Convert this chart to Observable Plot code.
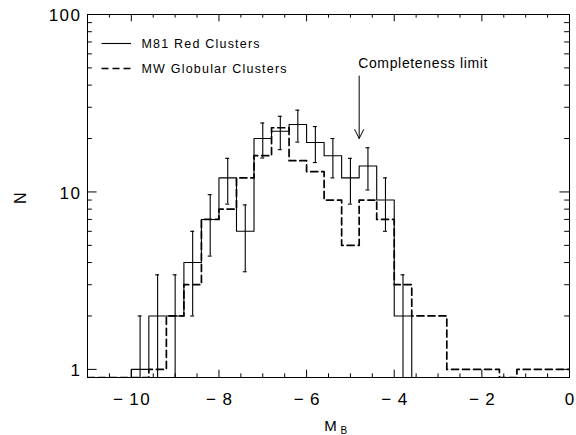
<!DOCTYPE html>
<html>
<head>
<meta charset="utf-8">
<script src="https://cdn.jsdelivr.net/npm/d3@7"></script>
<script src="https://cdn.jsdelivr.net/npm/@observablehq/plot@0.6"></script>
<style>
  html, body { margin: 0; padding: 0; background: #fff; }
  #chart { width: 576px; height: 435px; overflow: hidden; }
</style>
</head>
<body>
<div id="chart"></div>
<script>
// ---- data ----
const binStart = [-10.0, -9.6, -9.2, -8.8, -8.4, -8.0, -7.6, -7.2, -6.8, -6.4, -6.0, -5.6, -5.2,
                  -4.8, -4.4, -4.0, -3.6, -3.2, -2.8, -2.4, -2.0, -1.6, -1.2, -0.8, -0.4];
const binWidth = 0.4;
const m81Red    = [1, 2, 2, 4, 7, 12, 6, 20, 22, 24, 19, 16, 12, 14, 9, 2, 0, 0, 0, 0, 0, 0, 0, 0, 0];
const m81RedErr = [1.0, 1.41, 1.41, 2.0, 2.65, 3.46, 2.45, 4.47, 4.69, 4.9, 4.36, 4.0, 3.46, 3.74, 3.0, 1.41,
                   0, 0, 0, 0, 0, 0, 0, 0, 0];
const mwGlobular = [0, 1, 2, 3, 7, 8, 12, 16, 23, 15, 13, 9, 5, 9, 7, 3, 2, 2, 1, 1, 1, 0, 1, 1, 1];
const seriesNames = ["M81 Red Clusters", "MW Globular Clusters"];
const xMajorTicks = [-10, -8, -6, -4, -2, 0];
const xMinorTicks = [-10.5, -9.5, -9, -8.5, -7.5, -7, -6.5, -5.5, -5, -4.5, -3.5, -3, -2.5, -1.5, -1, -0.5];
const yMajorTicks = [1, 10, 100];
const yMinorTicks = [2, 3, 4, 5, 6, 7, 8, 9, 20, 30, 40, 50, 60, 70, 80, 90];
const completenessLimit = -4.8;
const annotationText = "Completeness limit";
const xDomain = [-11, 0];
const yDomain = [0.9, 100];

// ---- layout ----
const W = 576, H = 435, mL = 87, mR = 7, mT = 14, mB = 58;
const innerW = W - mL - mR, innerH = H - mT - mB;
const font = "'Liberation Sans', Arial, Helvetica, sans-serif";
const floor = yDomain[0];
const tickLS = 1.5;

function steps(values) {
  const pts = [{x: xDomain[0], y: floor}];
  binStart.forEach((x, i) => pts.push({x, y: values[i] > 0 ? values[i] : floor}));
  pts.push({x: xDomain[1], y: values[values.length - 1] > 0 ? values[values.length - 1] : floor});
  return pts;
}
const redSteps = steps(m81Red);
const mwSteps = steps(mwGlobular);
const errData = binStart.map((x, i) => ({
  x: x + binWidth / 2,
  lo: Math.max(m81Red[i] - m81RedErr[i], 0.5),
  hi: m81Red[i] + m81RedErr[i],
  n: m81Red[i]
})).filter(d => d.n > 0);
const capHalf = 0.045;
const caps = errData.flatMap(d => [{x: d.x, y: d.lo}, {x: d.x, y: d.hi}]);
const minus = d => d === 0 ? "0" : (d < 0 ? "\u2212\u2009" + Math.abs(d) : String(d));

const chart = Plot.plot({
  width: W, height: H,
  marginLeft: mL, marginRight: mR, marginTop: mT, marginBottom: mB,
  style: {fontFamily: font, background: "white", color: "black", overflow: "hidden"},
  x: {domain: xDomain, axis: null},
  y: {type: "log", domain: yDomain, axis: null},
  marks: [
    // inward ticks, all four sides
    Plot.tickX(xMinorTicks, {x: d => d, insetTop: innerH - 3.6, stroke: "black"}),
    Plot.tickX(xMinorTicks, {x: d => d, insetBottom: innerH - 3.6, stroke: "black"}),
    Plot.tickX(xMajorTicks, {x: d => d, insetTop: innerH - 7.3, stroke: "black"}),
    Plot.tickX(xMajorTicks, {x: d => d, insetBottom: innerH - 7.3, stroke: "black"}),
    Plot.tickY(yMinorTicks, {y: d => d, insetRight: innerW - 4.8, stroke: "black"}),
    Plot.tickY(yMinorTicks, {y: d => d, insetLeft: innerW - 4.8, stroke: "black"}),
    Plot.tickY(yMajorTicks, {y: d => d, insetRight: innerW - 9.6, stroke: "black"}),
    Plot.tickY(yMajorTicks, {y: d => d, insetLeft: innerW - 9.6, stroke: "black"}),
    Plot.axisX({ticks: xMajorTicks, tickSize: 0, tickPadding: 15, dx: tickLS / 2, fontSize: 17, tickFormat: minus, label: null}),
    Plot.axisY({ticks: yMajorTicks, tickSize: 0, tickPadding: 6, dy: 1.5, fontSize: 17, tickFormat: d => String(d), label: null}),
    // histograms
    Plot.line(mwSteps, {x: "x", y: "y", curve: "step-after", stroke: "black", strokeWidth: 1.7,
      strokeDasharray: "7,4", clip: true}),
    Plot.line(redSteps, {x: "x", y: "y", curve: "step-after", stroke: "black", strokeWidth: 1.1, clip: true}),
    // Poisson error bars
    Plot.ruleX(errData, {x: "x", y1: "lo", y2: "hi", stroke: "black", strokeWidth: 1.1, clip: true}),
    Plot.ruleY(caps, {x1: d => d.x - capHalf, x2: d => d.x + capHalf, y: "y", stroke: "black", strokeWidth: 1.1, clip: true}),
    Plot.frame({stroke: "black", strokeWidth: 1}),
    // annotation
    Plot.arrow([completenessLimit], {x1: d => d, x2: d => d, y1: 45, y2: 20, stroke: "black",
      strokeWidth: 1, headLength: 15, headAngle: 53}),
    Plot.text([annotationText], {x: completenessLimit, y: 50, dx: -1, text: d => d, textAnchor: "start",
      lineAnchor: "bottom", fontSize: 14, fill: "black"}),
    // axis titles
    Plot.text(["N"], {frameAnchor: "left", dx: -67, dy: 8, rotate: -90, text: d => d, fontSize: 16, fill: "black"}),
    Plot.text(["M"], {frameAnchor: "bottom", dx: 2, dy: 53, lineAnchor: "bottom", text: d => d, fontSize: 15, fill: "black"}),
    Plot.text(["B"], {frameAnchor: "bottom", dx: 12, dy: 56.5, lineAnchor: "bottom", textAnchor: "start", text: d => d, fontSize: 10, fill: "black"})
  ]
});

// legend (drawn into the same svg)
const svg = d3.select(chart);
const lg = svg.append("g").attr("aria-label", "legend").attr("text-anchor", "start");
const legendRows = [
  {name: seriesNames[0], dash: null, width: 1.1, y: 43.5},
  {name: seriesNames[1], dash: "7,4", width: 1.7, y: 68.5}
];
legendRows.forEach(r => {
  lg.append("line").attr("x1", 101.5).attr("x2", 131).attr("y1", r.y).attr("y2", r.y)
    .attr("stroke", "black").attr("stroke-width", r.width).attr("stroke-dasharray", r.dash);
  lg.append("text").attr("x", 141.5).attr("y", r.y + 4.3).text(r.name)
    .attr("text-anchor", "start")
    .attr("font-size", 12.5).attr("letter-spacing", "1.2px").attr("fill", "black")
    .attr("font-family", font);
});
svg.selectAll("g[aria-label='x-axis tick label'] text, g[aria-label='y-axis tick label'] text")
  .attr("letter-spacing", tickLS + "px");
svg.selectAll("g[aria-label='text'] text").filter(function() { return this.textContent === annotationText; })
  .attr("letter-spacing", "0.65px");

document.getElementById("chart").appendChild(chart);
</script>
</body>
</html>
